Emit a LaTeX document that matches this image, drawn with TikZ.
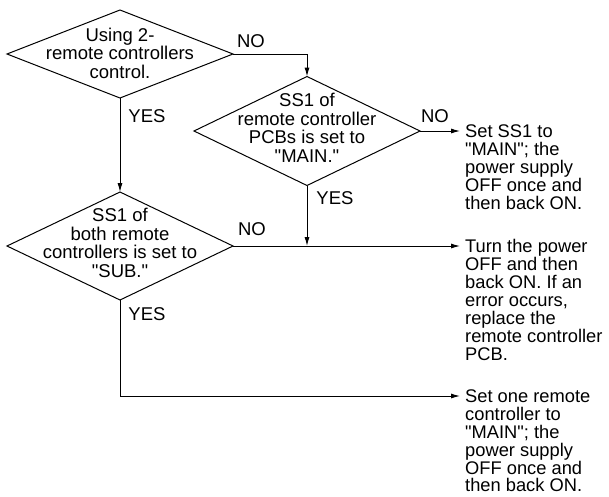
\documentclass[tikz,border=0pt]{standalone}
\usepackage{fontspec}
\setmainfont{Liberation Sans}
\usetikzlibrary{shapes.geometric,arrows.meta}

\newcommand{\dq}{\textquotedbl}

\tikzset{
  decision/.style={diamond, draw, line width=1pt, minimum width=226pt, minimum height=#1, inner sep=0pt, outer sep=0pt},
  dtext/.style={align=center, inner sep=0pt},
  note/.style={align=left, inner sep=0pt, anchor=north west, font=\fontsize{18.3pt}{17.9pt}\selectfont},
  lbl/.style={inner sep=0pt},
  flow/.style={line width=1pt, -{Latex[length=9pt,width=5pt]}}
}

\begin{document}
\begin{tikzpicture}[x=1pt, y=-1pt, font=\fontsize{18.5pt}{18.6pt}\selectfont]
    \useasboundingbox (0,0) rectangle (609,496);
    % Decisions
    \node[decision=88pt] (usetwo) at (120,54) {};
    \node[dtext] (usetwotxt) at (120,53) {Using 2-\\remote controllers\\control.};
    \node[decision=109pt] (ss1main) at (307,131) {};
    \node[dtext] (ss1maintxt) at (307,128) {SS1 of\\remote controller\\PCBs is set to\\\dq MAIN.\dq};
    \node[decision=108pt] (ss1sub) at (120,246) {};
    \node[dtext] (ss1subtxt) at (120,243) {SS1 of\\both remote\\controllers is set to\\\dq SUB.\dq};
    % Arrow ends
    \coordinate (tipa) at (460,131);
    \coordinate (tipb) at (460,246);
    \coordinate (tipc) at (460,396);
    % Results
    \node[note] (setmain) at (465,124.5) {Set SS1 to\\\dq MAIN\dq; the\\power supply\\OFF once and\\then back ON.};
    \node[note] (turnoff) at (465,239.5) {Turn the power\\OFF and then\\back ON. If an\\error occurs,\\replace the\\remote controller\\PCB.};
    \node[note] (setone) at (465,389.5) {Set one remote\\controller to\\\dq MAIN\dq; the\\power supply\\OFF once and\\then back ON.};
    % Connectors
    \draw[flow] (usetwo.east) -| (ss1main.north);
    \draw[flow] (usetwo.south) -- (ss1sub.north);
    \draw[flow] (ss1main.east) -- (tipa);
    \draw[flow] (ss1main.south) -- (ss1main.south |- ss1sub.east);
    \draw[flow] (ss1sub.east) -- (tipb);
    \draw[flow] (ss1sub.south) |- (tipc);
    % Labels
    \node[lbl] (noa) at (251,41) {NO};
    \node[lbl] (yesa) at (147,116) {YES};
    \node[lbl] (nob) at (435,116) {NO};
    \node[lbl] (yesb) at (335,198) {YES};
    \node[lbl] (noc) at (252,229) {NO};
    \node[lbl] (yesc) at (147,314) {YES};
\end{tikzpicture}
\end{document}
